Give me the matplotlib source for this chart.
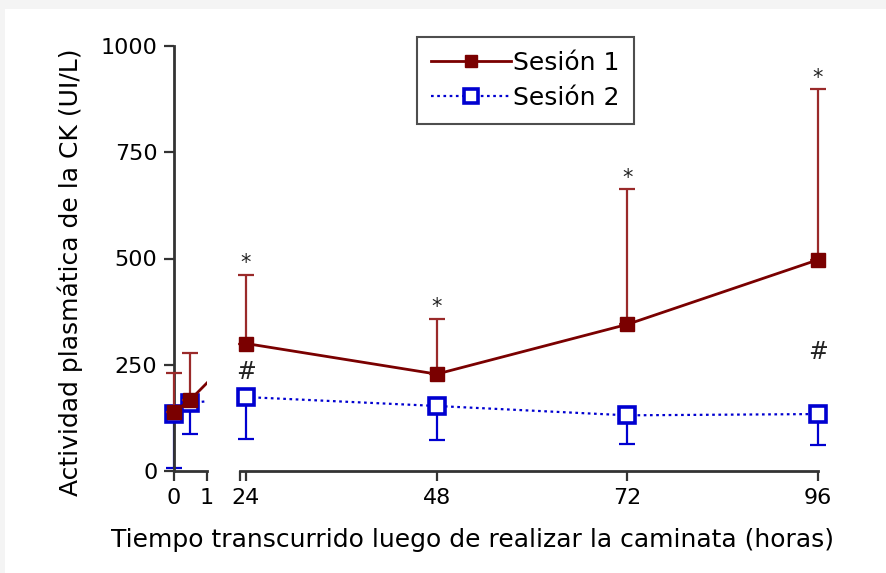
import matplotlib
matplotlib.use("Agg")
import matplotlib.pyplot as plt
from matplotlib.patches import Rectangle
import numpy as np

plt.rcParams['font.family'] = ['DejaVu Sans']

# horas tras la caminata (tramo corto 0-1 h y tramo largo 24-96 h)
horas_cortas = [0, 0.5]
horas_largas = [24, 48, 72, 96]

# CK plasmática (UI/L)
sesion1 = [138, 168, 300, 228, 345, 497]
sesion1_err_sup = [92, 109, 162, 130, 318, 402]
sesion2 = [134, 160, 174, 153, 131, 134]
sesion2_err_inf = [126, 73, 98, 80, 67, 72]

# marcas de significancia
horas_asterisco = [24, 48, 72, 96]
horas_numeral = [24, 96]
y_numeral = [232, 280]

rojo = '#7a0000'
rojo_err = '#9a2a2a'
azul = '#0000d0'

fig = plt.figure(figsize=(8.87, 5.73), dpi=100, facecolor='#f4f4f4')
fig.patches.append(Rectangle((5 / 887, 0), 1, 1 - 9 / 573, transform=fig.transFigure,
                             facecolor='white', edgecolor='none', zorder=-10))

W, H = 887, 573
y0, y1 = 471, 46
ax1 = fig.add_axes([174 / W, (H - y0) / H, 33 / W, (y0 - y1) / H])
ax2 = fig.add_axes([240 / W, (H - y0) / H, 578 / W, (y0 - y1) / H])

for ax in (ax1, ax2):
    ax.set_facecolor('none')
    ax.set_ylim(0, 1000)
    for s in ('top', 'right'):
        ax.spines[s].set_visible(False)
    ax.spines['bottom'].set_linewidth(2)
    ax.spines['bottom'].set_color('#333333')
    ax.tick_params(direction='out', length=7, width=1.6, color='#333333',
                   labelsize=16, pad=5)

ax1.spines['left'].set_linewidth(2)
ax1.spines['left'].set_color('#333333')
ax1.set_xlim(0, 1)
ax1.set_xticks([0, 1])
ax1.set_yticks([0, 250, 500, 750, 1000])

ax2.spines['left'].set_visible(False)
ax2.set_xlim(23.25, 96)
ax2.set_xticks(horas_largas)
ax2.set_xticks([23.25], minor=True)
ax2.tick_params(axis='x', which='minor', length=7, width=1.6, color='#333333')
ax2.tick_params(axis='y', left=False, labelleft=False)

# posición del punto de 24 h expresada en el eje corto (para el tramo cortado)
px24 = ax2.transData.transform((24, 0))[0]
x24_en_ax1 = ax1.transData.inverted().transform((px24, 0))[0]

n = len(horas_cortas)
xc = horas_cortas + [x24_en_ax1]
punteado = (0, (1.2, 1.6))

# Sesión 2 (debajo)
ax1.plot(xc, sesion2[:n + 1], linestyle=punteado, color=azul, lw=1.6, zorder=2)
ax2.plot(horas_largas, sesion2[n:], linestyle=punteado, color=azul, lw=1.6, zorder=2)
for ax, xs, ys, er in ((ax1, horas_cortas, sesion2[:n], sesion2_err_inf[:n]),
                       (ax2, horas_largas, sesion2[n:], sesion2_err_inf[n:])):
    ax.errorbar(xs, ys, yerr=[er, np.zeros(len(er))], fmt='none', ecolor=azul,
                elinewidth=1.6, capsize=6, capthick=1.6, zorder=2, clip_on=False)
    ax.plot(xs, ys, 's', ms=11, mfc='white', mec=azul, mew=2.6, zorder=3,
            clip_on=False)

# Sesión 1 (encima)
ax1.plot(xc, sesion1[:n + 1], '-', color=rojo, lw=2, zorder=4)
ax2.plot(horas_largas, sesion1[n:], '-', color=rojo, lw=2, zorder=4)
for ax, xs, ys, er in ((ax1, horas_cortas, sesion1[:n], sesion1_err_sup[:n]),
                       (ax2, horas_largas, sesion1[n:], sesion1_err_sup[n:])):
    ax.errorbar(xs, ys, yerr=[np.zeros(len(er)), er], fmt='none', ecolor=rojo_err,
                elinewidth=1.6, capsize=6, capthick=1.6, zorder=4, clip_on=False)
    ax.plot(xs, ys, 's', ms=10, mfc=rojo, mec=rojo, zorder=5, clip_on=False)

# asteriscos sobre las barras de la sesión 1
for h in horas_asterisco:
    i = n + horas_largas.index(h)
    ax2.annotate('*', (h, sesion1[i] + sesion1_err_sup[i]), xytext=(0, 1),
                 textcoords='offset points', ha='center', va='bottom',
                 fontsize=15, color='#222222')
for h, yv in zip(horas_numeral, y_numeral):
    ax2.text(h, yv, '#', ha='center', va='center', fontsize=17, color='#222222')

fig.text(70 / W, 1 - 272 / H, 'Actividad plasmática de la CK (UI/L)', rotation=90,
         ha='center', va='center', fontsize=18)
fig.text(473 / W, 1 - 540 / H, 'Tiempo transcurrido luego de realizar la caminata (horas)',
         ha='center', va='center', fontsize=18)

# leyenda
h1, = ax2.plot([], [], '-s', color=rojo, lw=2, ms=9)
h2, = ax2.plot([], [], linestyle=punteado, marker='s', color=azul, lw=1.6, ms=10,
               mfc='white', mew=2.6)
leg = ax2.legend([h1, h2], ['Sesión 1', 'Sesión 2'], loc='upper left',
                 bbox_to_anchor=(417 / W, 1 - 37 / H), bbox_transform=fig.transFigure,
                 fontsize=18, frameon=True, fancybox=False, handlelength=3.2,
                 borderpad=0.55, labelspacing=0.45, handletextpad=0.1,
                 borderaxespad=0)
leg.get_frame().set_edgecolor('#222222')
leg.get_frame().set_linewidth(1.5)

fig.savefig('out.png', dpi=100, facecolor=fig.get_facecolor())
